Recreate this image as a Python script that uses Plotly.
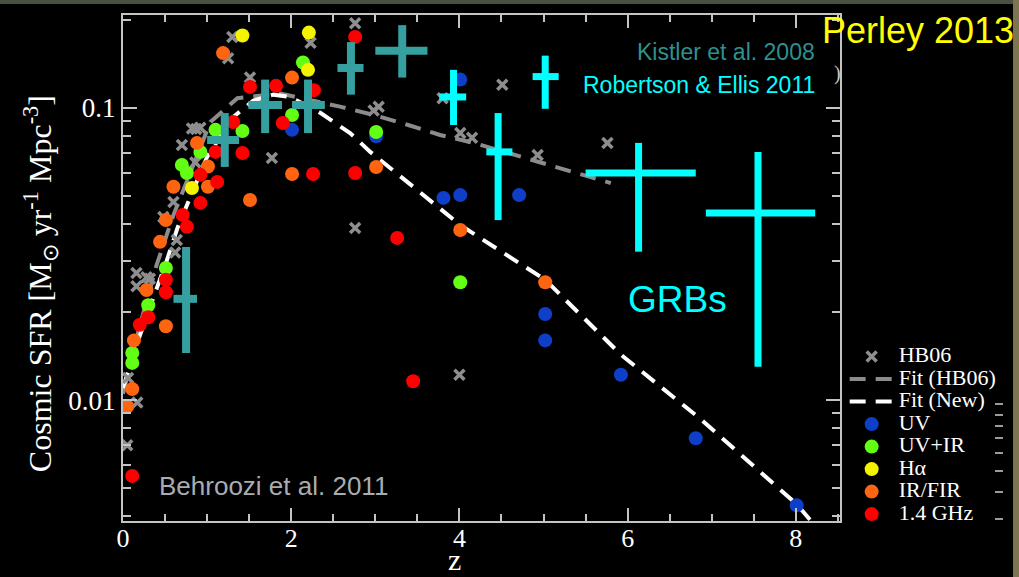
import plotly.graph_objects as go

# ---------------- data ----------------
# HB06 compilation (gray x markers)
hb06_z = [1.30, 1.25, 2.23, 1.51, 0.82, 0.87, 0.70, 1.77, 0.86, 2.76, 2.76, 3.04, 2.98,
          0.92, 0.60, 0.48, 0.64, 0.16, 0.28, 0.32, 0.17, 0.06, 0.05, 3.80, 4.51, 4.01,
          4.15, 4.93, 5.76, 4.00, 0.62, 0.16]
hb06_sfr = [0.175, 0.148, 0.167, 0.127, 0.085, 0.0847, 0.0747, 0.0674, 0.065, 0.195, 0.0388,
            0.101, 0.098, 0.0855, 0.0476, 0.0423, 0.0353, 0.0272, 0.0263, 0.026, 0.0098,
            0.0119, 0.0070, 0.108, 0.120, 0.082, 0.079, 0.069, 0.0759, 0.0122, 0.032, 0.0245]

# Fit (HB06) - gray dashed
fit_hb06_z = [0.0, 0.2, 0.4, 0.6, 0.8, 1.04, 1.36, 1.87, 2.58, 2.98, 3.39, 3.77, 4.17,
              4.57, 4.96, 5.36, 5.8]
fit_hb06_sfr = [0.0105, 0.018, 0.029, 0.043, 0.060, 0.0895, 0.108, 0.112, 0.101, 0.0946,
                0.0874, 0.0808, 0.0759, 0.0701, 0.0653, 0.0599, 0.0553]

# Fit (New) - white dashed
fit_new_z = [0.0, 0.1, 0.18, 0.38, 0.52, 0.65, 0.76, 1.0, 1.31, 1.55, 1.79, 1.99, 2.35,
             2.70, 2.94, 3.30, 3.5, 4.01, 5.02, 5.92, 6.87, 8.01, 8.2]
fit_new_sfr = [0.011, 0.0135, 0.016, 0.0232, 0.030, 0.039, 0.0466, 0.068, 0.093, 0.106,
               0.111, 0.109, 0.096, 0.082, 0.0707, 0.058, 0.0523, 0.0397, 0.0258, 0.0143,
               0.0086, 0.0044, 0.0038]

# Colored data points
uv_z = [2.01, 3.01, 4.01, 3.81, 4.01, 4.71, 5.02, 5.02, 5.92, 6.81, 8.01]
uv_sfr = [0.0841, 0.080, 0.125, 0.0492, 0.0503, 0.0503, 0.0197, 0.016, 0.0122, 0.0074, 0.00436]

uvir_z = [2.14, 2.01, 1.10, 1.42, 0.92, 0.70, 0.76, 3.01, 4.01, 0.51, 0.30, 0.11, 0.11]
uvir_sfr = [0.143, 0.0946, 0.0841, 0.0834, 0.0707, 0.0638, 0.0599, 0.0827, 0.0253, 0.0283,
            0.0211, 0.0145, 0.0134]

ha_z = [1.42, 2.21, 2.20, 0.82]
ha_sfr = [0.177, 0.181, 0.135, 0.0532]

irfir_z = [1.19, 2.01, 0.88, 1.01, 2.01, 3.01, 1.51, 0.60, 1.01, 0.51, 0.44, 0.28, 0.51,
           0.13, 0.11, 0.05, 4.01, 5.02]
irfir_sfr = [0.154, 0.127, 0.0759, 0.063, 0.0594, 0.0628, 0.0484, 0.0537, 0.0537, 0.0413,
             0.0348, 0.0238, 0.0179, 0.016, 0.0109, 0.0095, 0.0382, 0.0253]

ghz_z = [1.51, 1.82, 2.27, 1.90, 1.31, 1.10, 1.42, 0.92, 1.12, 2.26, 2.76, 2.76, 3.26,
         0.92, 0.71, 0.76, 0.51, 0.51, 0.30, 0.20, 0.11, 3.45]
ghz_sfr = [0.118, 0.119, 0.115, 0.0888, 0.0895, 0.0707, 0.0701, 0.059, 0.0558, 0.0594,
           0.175, 0.0599, 0.0359, 0.0473, 0.043, 0.0392, 0.0258, 0.0234, 0.0192, 0.0181,
           0.0055, 0.0116]

# GRB-based estimates: Kistler et al. 2008 (teal)
kis_z = [0.75, 1.21, 1.69, 2.20, 2.71, 3.32]
kis_z_lo = [0.60, 1.00, 1.49, 2.01, 2.55, 3.00]
kis_z_hi = [0.88, 1.38, 1.89, 2.40, 2.86, 3.62]
kis_sfr = [0.0222, 0.0777, 0.1024, 0.1024, 0.137, 0.157]
kis_sfr_lo = [0.0145, 0.0628, 0.082, 0.082, 0.111, 0.127]
kis_sfr_hi = [0.0334, 0.096, 0.125, 0.125, 0.168, 0.192]

# Robertson & Ellis 2011 (cyan)
re_z = [3.93, 4.46, 5.02, 6.13, 7.55]
re_z_lo = [3.76, 4.32, 4.87, 5.50, 6.93]
re_z_hi = [4.08, 4.63, 5.18, 6.81, 8.23]
re_sfr = [0.109, 0.0707, 0.128, 0.0599, 0.0437]
re_sfr_lo = [0.0874, 0.0413, 0.0993, 0.0322, 0.013]
re_sfr_hi = [0.135, 0.096, 0.151, 0.0759, 0.0707]

y_ticks = [0.01, 0.1]
y_ticktext = ["0.01", "0.1"]
y_minor = [0.004, 0.005, 0.006, 0.007, 0.008, 0.009, 0.02, 0.03, 0.04, 0.05, 0.06,
           0.07, 0.08, 0.09, 0.2]

# ---------------- figure ----------------
SERIF = "Liberation Serif, Times New Roman, serif"
SANS = "Liberation Sans, Arial, sans-serif"


def leg(label):
    return '<span style="font-size:22px">' + label + '</span>'


fig = go.Figure()

fig.add_trace(go.Scatter(x=fit_hb06_z, y=fit_hb06_sfr, mode="lines", name=leg("Fit (HB06)"),
                         line=dict(color="#8c8c8c", width=4, dash="16px,10px"), legendrank=2))
fig.add_trace(go.Scatter(x=fit_new_z, y=fit_new_sfr, mode="lines", name=leg("Fit (New)"),
                         line=dict(color="#ffffff", width=4, dash="16px,10px"), legendrank=3))
fig.add_trace(go.Scatter(x=hb06_z, y=hb06_sfr, mode="markers", name=leg("HB06"),
                         marker=dict(symbol="x-thin", size=10, color="#8e8e8e",
                                     line=dict(color="#8e8e8e", width=3.5)),
                         legendrank=1))

dot_sets = [
    ("UV", uv_z, uv_sfr, "#0f3fc8", 4),
    ("UV+IR", uvir_z, uvir_sfr, "#62ff14", 5),
    ("H\u03b1", ha_z, ha_sfr, "#f4f400", 6),
    ("IR/FIR", irfir_z, irfir_sfr, "#ff6410", 7),
    ("1.4 GHz", ghz_z, ghz_sfr, "#ff0000", 8),
]
for name, zz, ss, col, rank in dot_sets:
    fig.add_trace(go.Scatter(x=zz, y=ss, mode="markers", name=leg(name),
                             marker=dict(symbol="circle", size=14, color=col),
                             legendrank=rank))


def cross_trace(z, zlo, zhi, s, slo, shi, color, thick):
    return go.Scatter(
        x=z, y=s, mode="markers", showlegend=False, hoverinfo="skip",
        marker=dict(size=1, color=color, opacity=0),
        error_x=dict(type="data", symmetric=False,
                     array=[b - a for a, b in zip(z, zhi)],
                     arrayminus=[a - b for a, b in zip(z, zlo)],
                     color=color, thickness=thick, width=0),
        error_y=dict(type="data", symmetric=False,
                     array=[b - a for a, b in zip(s, shi)],
                     arrayminus=[a - b for a, b in zip(s, slo)],
                     color=color, thickness=thick, width=0),
    )


fig.add_trace(cross_trace(kis_z, kis_z_lo, kis_z_hi, kis_sfr, kis_sfr_lo, kis_sfr_hi,
                          "#36a0a0", 8))
fig.add_trace(cross_trace(re_z, re_z_lo, re_z_hi, re_sfr, re_sfr_lo, re_sfr_hi,
                          "#00ffff", 7))

axis_col = "#c4c4c4"
fig.update_xaxes(range=[0, 8.525], dtick=2, tick0=0, ticks="inside", ticklen=13,
                 tickwidth=2, tickcolor=axis_col, showline=True, linecolor=axis_col,
                 linewidth=2, mirror="ticks", showgrid=False, zeroline=False,
                 ticklabelstandoff=-7,
                 tickfont=dict(family=SERIF, size=26, color="#ffffff"),
                 minor=dict(dtick=0.5, tick0=0, ticks="inside", ticklen=7,
                            tickcolor=axis_col, tickwidth=2, showgrid=False))
fig.update_yaxes(type="log", range=[-2.414, -0.682], tickvals=y_ticks, ticktext=y_ticktext,
                 ticks="inside", ticklen=14, tickwidth=2, tickcolor=axis_col,
                 showline=True, linecolor=axis_col, linewidth=2, mirror="ticks",
                 showgrid=False, zeroline=False,
                 tickfont=dict(family=SERIF, size=27, color="#ffffff"),
                 minor=dict(tickvals=y_minor, ticks="inside", ticklen=8,
                            tickcolor=axis_col, tickwidth=2, showgrid=False))

annotations = [
    dict(text="Cosmic SFR [M<sub>\u2299</sub> yr<sup>-1</sup> Mpc<sup>-3</sup>]",
         x=-0.1158, y=0.47, textangle=-90, font=dict(family=SERIF, size=32, color="#ffffff")),
    dict(text="z", x=0.463, y=-0.077, font=dict(family=SERIF, size=30, color="#ffffff")),
    dict(text="Kistler et al. 2008", x=0.968, y=0.927, xanchor="right",
         font=dict(family=SANS, size=23, color="#2f9090")),
    dict(text="Robertson & Ellis 2011", x=0.968, y=0.862, xanchor="right",
         font=dict(family=SANS, size=23, color="#00ffff")),
    dict(text="GRBs", x=0.773, y=0.437, font=dict(family=SANS, size=37, color="#00ffff")),
    dict(text="Behroozi et al. 2011", x=0.0474, y=0.069, xanchor="left",
         font=dict(family=SANS, size=26, color="#a8acb2")),
    dict(text="Perley 2013", x=0.972, y=0.97, xanchor="left",
         font=dict(family=SANS, size=36, color="#ffff00")),
    dict(text=")", x=0.997, y=0.885, font=dict(family=SERIF, size=20, color="#c8c8c8")),
]
for a in annotations:
    a.setdefault("xanchor", "center")
    a.update(xref="paper", yref="paper", showarrow=False, yanchor="middle")

# stray tick marks visible to the right of the legend in the reference image
stray_y_px = [404, 415, 426, 438, 453, 471, 492, 519]
shapes = [
    dict(type="rect", xref="paper", yref="paper", x0=-0.2, x1=1.26, y0=1.0217, y1=1.04,
         fillcolor="#4b5140", line=dict(width=0), layer="above"),
    dict(type="rect", xref="paper", yref="paper", x0=1.2413, x1=1.26, y0=-0.12, y1=1.04,
         fillcolor="#7d7450", line=dict(width=0), layer="above"),
]
for py in stray_y_px:
    yp = (521 - py) / 506
    shapes.append(dict(type="line", xref="paper", yref="paper",
                       x0=(995 - 123) / 717, x1=(1003 - 123) / 717, y0=yp, y1=yp,
                       line=dict(color="#cfcfcf", width=1.5)))

fig.update_layout(
    width=1019, height=577,
    margin=dict(l=123, r=179, t=15, b=56, autoexpand=False),
    paper_bgcolor="#000000", plot_bgcolor="#000000",
    showlegend=True,
    legend=dict(x=1.0065, y=0.357, xanchor="left", yanchor="top",
                bgcolor="rgba(0,0,0,0)", borderwidth=0, tracegroupgap=0,
                itemwidth=44,
                font=dict(family=SERIF, size=15, color="#ffffff")),
    annotations=annotations,
    shapes=shapes,
)

fig.write_html("out.html")
